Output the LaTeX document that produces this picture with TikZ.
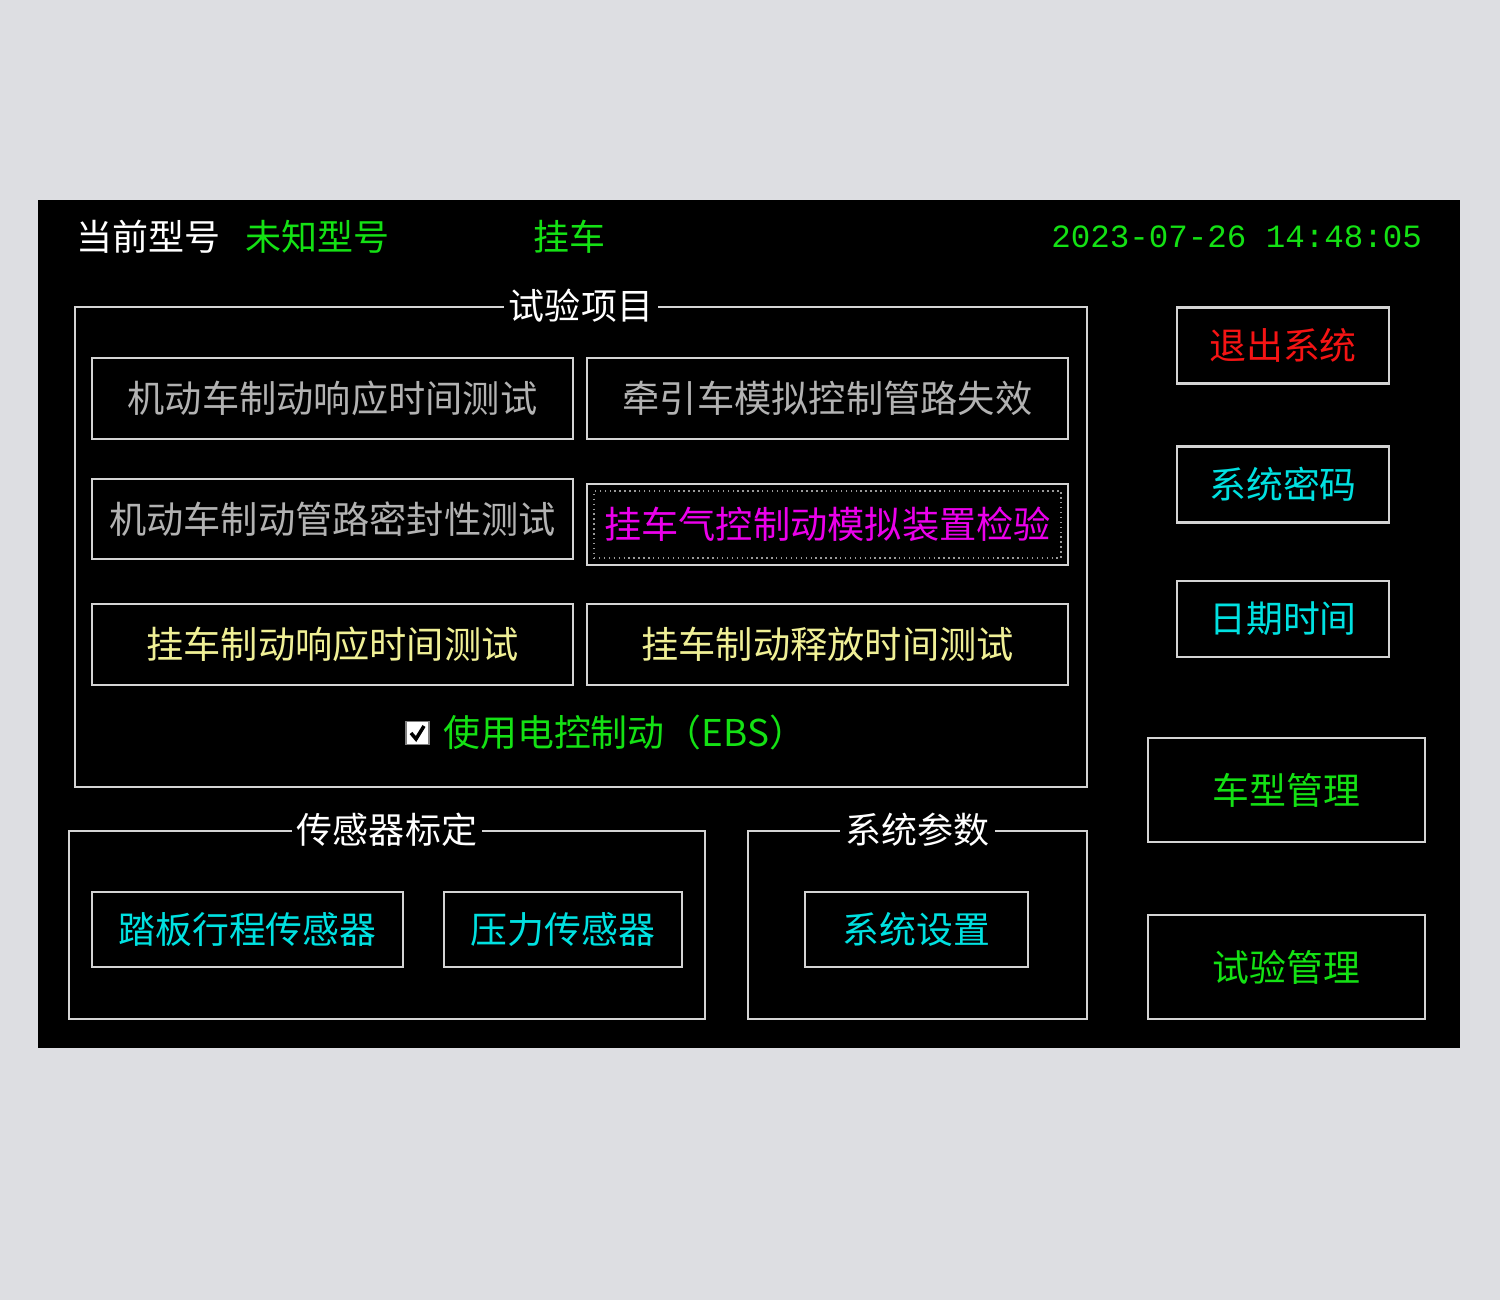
\documentclass[tikz,border=0pt]{standalone}
\usepackage{fontspec}
\newfontfamily\cjk{Noto Sans CJK SC}
\newfontfamily\datefont{Liberation Mono}
\definecolor{bg}{RGB}{221,222,226}
\definecolor{edge}{RGB}{212,212,212}
\definecolor{dimtext}{RGB}{178,178,178}
\definecolor{scrgreen}{RGB}{20,225,20}
\definecolor{scrcyan}{RGB}{0,225,225}
\definecolor{scrred}{RGB}{245,20,20}
\definecolor{scrpink}{RGB}{235,0,235}
\definecolor{scryellow}{RGB}{240,240,150}

\begin{document}
\begin{tikzpicture}[x=0.02cm, y=-0.02cm,
	btn/.style={draw=edge, line width=1.5pt, inner sep=0pt, font=\cjk\fontsize{21}{24}\selectfont},
	wide/.style={btn, minimum width=9.62cm, minimum height=1.62cm, font=\cjk\fontsize{21.2}{24}\selectfont},
	grp/.style={draw=edge, line width=1pt, inner sep=0pt},
	ttl/.style={fill=black, text=white, inner sep=3pt, font=\cjk\fontsize{20.5}{24}\selectfont}]
	
	\fill[bg] (0,0) rectangle (1500,1300);
	\useasboundingbox (0,0) rectangle (1500,1300);
	\fill[black] (38,200) rectangle (1460,1048);
	
	% header
	\node[anchor=west, inner sep=0pt, text=white, font=\cjk\fontsize{20.5}{24}\selectfont] (model) at (76,237) {当前型号};
	\node[anchor=west, inner sep=0pt, text=scrgreen, font=\cjk\fontsize{20.5}{24}\selectfont] (modelname) at (245,237) {未知型号};
	\node[anchor=west, inner sep=0pt, text=scrgreen, font=\cjk\fontsize{20.5}{24}\selectfont] (kind) at (533,237) {挂车};
	\node[anchor=west, inner sep=0pt, text=scrgreen, font=\datefont\fontsize{18.5}{22}\selectfont] (clock) at (1051,237) {2023-07-26 14:48:05};
	
	% groups
	\node[grp, minimum width=20.24cm, minimum height=9.6cm] (items) at (581,547) {};
	\node[ttl] (itemsttl) at (items.north) {试验项目};
	\node[grp, minimum width=12.72cm, minimum height=3.76cm] (sensor) at (387,925) {};
	\node[ttl] (sensorttl) at (sensor.north) {传感器标定};
	\node[grp, minimum width=6.78cm, minimum height=3.76cm] (param) at (917.5,925) {};
	\node[ttl] (paramttl) at (param.north) {系统参数};
	
	% test items
	\node[wide, text=dimtext] (b1) at (332.5,398.5) {机动车制动响应时间测试};
	\node[wide, text=dimtext] (b2) at (827.5,398.5) {牵引车模拟控制管路失效};
	\node[wide, text=dimtext, minimum height=1.6cm] (b3) at (332.5,519) {机动车制动管路密封性测试};
	\node[wide, text=scrpink] (b4) at (827.5,524.5) {挂车气控制动模拟装置检验};
	\node[draw=gray!80, dotted, line width=0.8pt, minimum width=9.34cm, minimum height=1.34cm] (b4in) at (b4) {};
	\node[wide, text=scryellow] (b5) at (332.5,644.5) {挂车制动响应时间测试};
	\node[wide, text=scryellow] (b6) at (827.5,644.5) {挂车制动释放时间测试};
	
	\node[draw=gray, fill=white, line width=1pt, minimum size=0.46cm, inner sep=0pt] (cb) at (417.5,733) {};
	\draw[line width=2pt] (411,733) -- (416,739) -- (424,726);
	\node[anchor=west, inner sep=0pt, text=scrgreen, font=\cjk\fontsize{21}{24}\selectfont] (ebs) at (443,732) {使用电控制动（EBS）};
	
	% sensors and parameters
	\node[btn, text=scrcyan, minimum width=6.22cm, minimum height=1.5cm] (s1) at (247.5,929.5) {踏板行程传感器};
	\node[btn, text=scrcyan, minimum width=4.76cm, minimum height=1.5cm] (s2) at (563,929.5) {压力传感器};
	\node[btn, text=scrcyan, minimum width=4.46cm, minimum height=1.5cm] (s3) at (916.5,929.5) {系统设置};
	
	% right column
	\foreach \n/\t/\y/\c in {r1/退出系统/345.5/scrred, r2/系统密码/484.5/scrcyan, r3/日期时间/619/scrcyan}
	{
		\node[btn, text=\c, minimum width=4.24cm, minimum height=1.52cm] (\n) at (1283,\y) {\t};
	}
	\foreach \n/\t/\y in {r4/车型管理/790, r5/试验管理/967}
	{
		\node[btn, text=scrgreen, minimum width=5.54cm, minimum height=2.08cm] (\n) at (1286.5,\y) {\t};
	}
\end{tikzpicture}
\end{document}
